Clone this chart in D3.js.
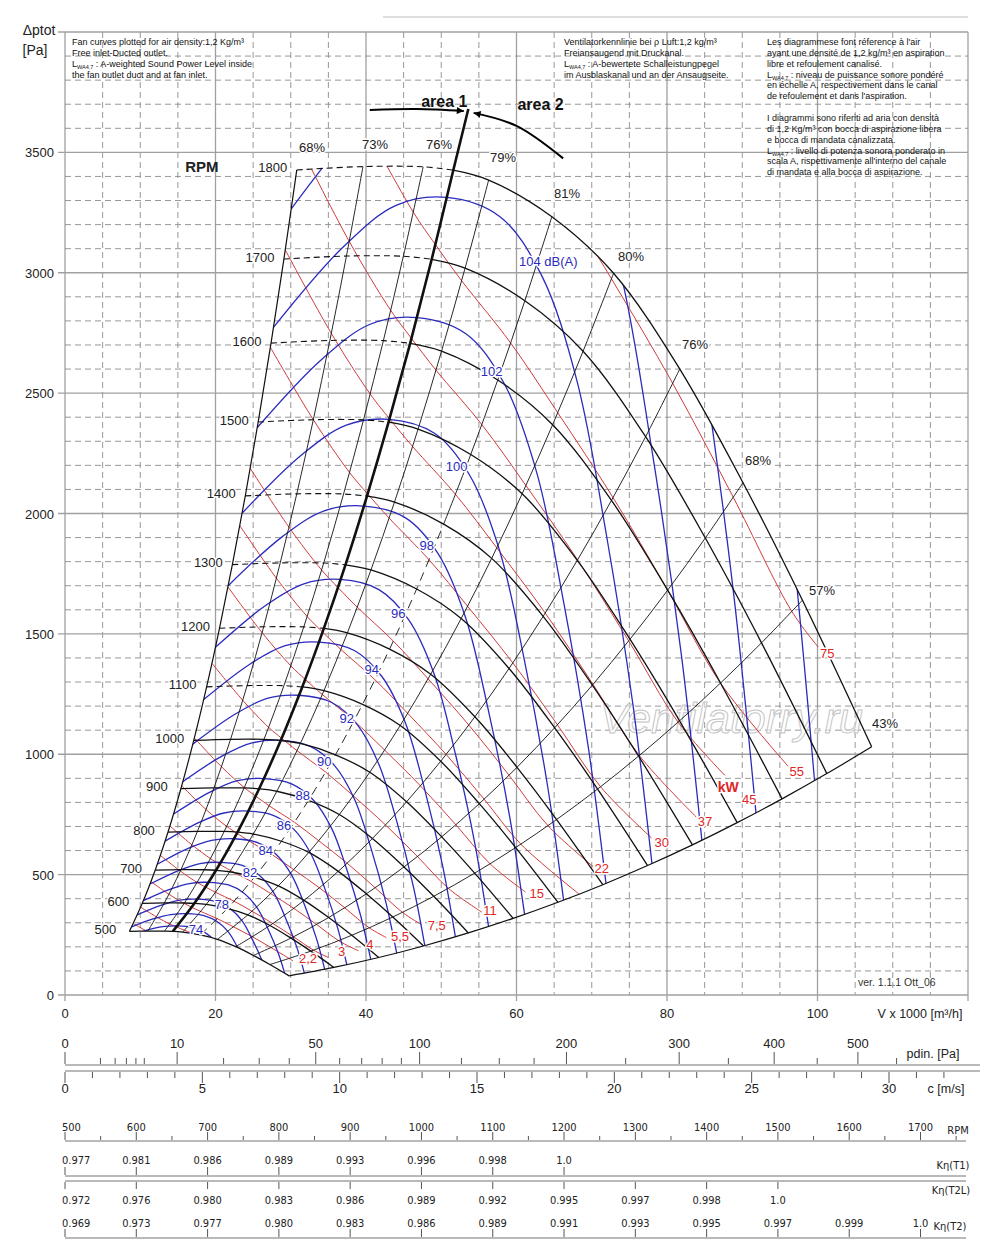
<!DOCTYPE html>
<html><head><meta charset="utf-8">
<script src="https://cdn.jsdelivr.net/npm/d3@7"></script>
<style>
body{margin:0;background:#fff;}
svg{display:block;}
</style></head><body>
<svg id="chart" width="1000" height="1243"></svg>
<script>
// ===================== DATA =====================
// Fan curves: one row per RPM, columns = points on the efficiency lines
// (68%, 73%, 76%, area boundary, 79%, 81%, 80%, 76%, 68%, 57%, 43%)
const rpmList = [500,600,700,800,900,1000,1100,1200,1300,1400,1500,1600,1700,1800];
const fanV = [
 [8.56,11.0,13.22,14.33,15.64,17.97,20.25,22.69,25.03,27.22,29.78],
 [10.27,13.2,15.87,17.2,18.77,21.57,24.3,27.23,30.03,32.67,35.73],
 [11.98,15.4,18.51,20.07,21.89,25.16,28.35,31.77,35.04,38.11,41.69],
 [13.69,17.6,21.16,22.93,25.02,28.76,32.4,36.31,40.04,43.56,47.64],
 [15.4,19.8,23.8,25.8,28.15,32.35,36.45,40.85,45.05,49.0,53.6],
 [17.11,22.0,26.44,28.67,31.28,35.94,40.5,45.39,50.06,54.44,59.56],
 [18.82,24.2,29.09,31.53,34.41,39.54,44.55,49.93,55.06,59.89,65.51],
 [20.53,26.4,31.73,34.4,37.53,43.13,48.6,54.47,60.07,65.33,71.47],
 [22.24,28.6,34.38,37.27,40.66,46.73,52.65,59.01,65.07,70.78,77.42],
 [23.96,30.8,37.02,40.13,43.79,50.32,56.7,63.54,70.08,76.22,83.38],
 [25.67,33.0,39.67,43.0,46.92,53.92,60.75,68.08,75.08,81.67,89.33],
 [27.38,35.2,42.31,45.87,50.04,57.51,64.8,72.62,80.09,87.11,95.29],
 [29.09,37.4,44.96,48.73,53.17,61.11,68.85,77.16,85.09,92.56,101.24],
 [30.8,39.6,47.6,51.6,56.3,64.7,72.9,81.7,90.1,98.0,107.2]
];
const fanP = [
 [264.4,265.5,265.4,264.3,261.2,249.5,231.3,200.6,164.2,126.5,79.6],
 [380.8,382.3,382.2,380.7,376.1,359.2,333.1,288.9,236.4,182.2,114.6],
 [518.3,520.4,520.2,518.1,511.9,488.9,453.4,393.2,321.8,248.0,155.9],
 [676.9,679.7,679.5,676.7,668.6,638.6,592.2,513.6,420.3,323.9,203.7],
 [856.8,860.3,860.0,856.5,846.3,808.3,749.5,650.0,532.0,410.0,257.8],
 [1057.7,1062.0,1061.7,1057.4,1044.7,997.8,925.3,802.5,656.8,506.2,318.2],
 [1279.8,1285.1,1284.7,1279.5,1264.2,1207.4,1119.6,971.0,794.7,612.5,385.0],
 [1523.1,1529.3,1528.9,1522.7,1504.4,1436.9,1332.4,1155.6,945.8,728.9,458.2],
 [1787.5,1794.8,1794.3,1787.0,1765.6,1686.3,1563.8,1356.2,1110.0,855.4,537.8],
 [2073.1,2081.6,2081.0,2072.5,2047.7,1955.8,1813.6,1572.8,1287.3,992.1,623.7],
 [2379.9,2389.6,2388.9,2379.2,2350.7,2245.1,2081.9,1805.6,1477.8,1138.9,716.0],
 [2707.7,2718.8,2718.0,2706.9,2674.6,2554.5,2368.8,2054.3,1681.4,1295.8,814.6],
 [3056.8,3069.3,3068.4,3055.9,3019.4,2883.8,2674.2,2319.1,1898.1,1462.8,919.6],
 [3427,3441,3440,3426,3385,3233,2998,2600,2128,1640,1031]
];
const effLabels = ["68%","73%","76%","","79%","81%","80%","76%","68%","57%","43%"];
const areaLineTop = [53.6,3680];
const areaArcLeft = [[40.5,3676],[46.7,3680],[53.0,3672]];
const areaArcRight = [[66.2,3475],[60.0,3610],[54.3,3664]];

// Sound power level curves dB(A)
const dbLevels = [110,108,106,104,102,100,98,96,94,92,90,88,86,84,82,80,78,76,74];
const dbLabels = ["","","","104 dB(A)","102","100","98","96","94","92","90","88","86","84","82","","78","","74"];
const dbV = [
 [80.84,86.84,91.82,96.42,99.61,100.25],
 [68.04,74.51,80.04,84.63,88.87,91.82,92.40],
 [30.05,40.14,47.74,55.01,62.71,68.68,73.78,78.01,81.91,84.63,85.17],
 [27.7,37.0,44.0,50.7,57.8,63.3,68.0,71.9,75.5,78.0,78.5],
 [25.53,34.10,40.55,46.73,53.27,58.34,62.68,66.27,69.59,71.89,72.35],
 [23.53,31.43,37.38,43.07,49.10,53.78,57.77,61.08,64.14,66.26,66.69],
 [21.69,28.97,34.45,39.70,45.26,49.56,53.24,56.30,59.12,61.07,61.47],
 [19.99,26.70,31.75,36.59,41.71,45.68,49.08,51.89,54.49,56.29,56.65],
 [18.43,24.61,29.27,33.72,38.45,42.11,45.23,47.83,50.22,51.88,52.22],
 [16.98,22.69,26.98,31.08,35.44,38.81,41.69,44.08,46.29,47.82,48.13],
 [15.65,20.91,24.86,28.65,32.66,35.77,38.43,40.63,42.66,44.08,44.36],
 [14.43,19.27,22.92,26.41,30.10,32.97,35.42,37.45,39.32,40.63,40.89],
 [13.30,17.76,21.12,24.34,27.75,30.39,32.64,34.52,36.25,37.45,37.69],
 [12.26,16.37,19.47,22.43,25.58,28.01,30.09,31.81,33.41,34.51,34.73],
 [11.30,15.09,17.94,20.68,23.57,25.82,27.73,29.32,30.79,31.81,32.01],
 [10.41,13.91,16.54,19.06,21.73,23.79,25.56,27.03,28.38,29.32,29.51],
 [9.60,12.82,15.24,17.57,20.03,21.93,23.56,24.91,26.16,27.02,27.20],
 [8.85,11.82,14.05,16.19,18.46,20.21,21.72,22.96,24.11,24.91,25.07],
 [8.15,10.89,12.95,14.92,17.01,18.63,20.01,21.16,22.22,22.96,23.11]
];
const dbP = [
 [4878,4167,3131,1957,890,652],
 [4480,4144,3540,2660,1663,757,554],
 [3264,3659,3861,3900,3806,3521,3008,2260,1413,643,471],
 [2773,3108,3280,3313,3233,2991,2555,1920,1200,546,400],
 [2356,2640,2786,2814,2747,2541,2171,1631,1019,464,340],
 [2001,2243,2367,2391,2333,2159,1844,1386,866,394,289],
 [1700,1906,2011,2031,1982,1834,1567,1177,736,335,245],
 [1444,1619,1708,1726,1684,1558,1331,1000,625,284,208],
 [1227,1375,1451,1466,1431,1323,1131,850,531,242,177],
 [1042,1168,1233,1245,1215,1124,960,722,451,205,150],
 [886,993,1047,1058,1032,955,816,613,383,174,128],
 [752,843,890,899,877,811,693,521,326,148,109],
 [639,716,756,764,745,689,589,443,277,126,92],
 [543,609,642,649,633,586,500,376,235,107,78],
 [461,517,546,551,538,497,425,319,200,91,67],
 [392,439,463,468,457,423,361,271,170,77,57],
 [333,373,394,398,388,359,307,230,144,66,48],
 [283,317,334,338,330,305,261,196,122,56,41],
 [240,269,284,287,280,259,221,166,104,47,35]
];

// Shaft power lines kW
const kwValues = [75,55,45,37,30,22,18.5,15,11,7.5,5.5,4,3,2.2,1.5,1.1];
const kwLabels = ["75","55","45","37","30","22","","15","11","7,5","5,5","4","3","2,2","",""];
const kwV = [
 [65.65,72.62,80.76,88.81,96.59,100.1],
 [40.39,46.28,49.22,52.71,59.22,65.48,72.83,80.09,87.11,96.1],
 [31.24,37.77,43.28,46.04,49.30,55.39,61.25,68.12,74.91,81.47,87.7],
 [29.27,35.39,40.55,43.13,46.19,51.89,57.38,63.82,70.17,76.32,83.9],
 [27.29,33.0,37.81,40.22,43.07,48.38,53.50,59.51,65.44,71.17,77.96],
 [24.61,29.76,34.10,36.27,38.84,43.63,48.25,53.66,59.01,64.18,70.2],
 [23.23,28.09,32.18,34.23,36.66,41.18,45.54,50.65,55.70,60.58,68.33],
 [21.66,26.19,30.01,31.92,34.19,38.40,42.47,47.23,51.94,56.49,61.2],
 [19.53,23.62,27.06,28.79,30.83,34.63,38.30,42.59,46.84,50.94,55.4],
 [17.19,20.79,23.82,25.34,27.13,30.48,33.71,37.49,41.22,44.84,47.4],
 [15.51,18.74,21.48,22.85,24.47,27.49,30.39,33.81,37.17,40.43,42.7],
 [13.94,16.86,19.32,20.55,22.0,24.72,27.33,30.4,33.43,36.36,39.0],
 [12.67,15.32,17.55,18.67,19.99,22.46,24.84,27.62,30.37,33.03,35.0],
 [11.42,13.81,15.83,16.83,18.03,20.25,22.4,24.91,27.39,29.79,30.3],
 [10.05,12.16,13.93,14.82,15.87,17.82,19.71,21.92,24.11,26.22,29.58],
 [9.07,10.96,12.56,13.36]
];
const kwP = [
 [3328.6,2974.9,2540.4,2067.2,1593.1,1445],
 [3579.7,3251.9,3117.1,2966.9,2708.5,2418.6,2066.0,1681.2,1295.8,950],
 [3525.6,3130.3,2844.1,2727.4,2595.5,2369.4,2116.3,1807.4,1470.8,1133.4,912],
 [3095,2748.3,2496.5,2393.5,2278.4,2079.5,1857.3,1586.4,1290.5,994.6,739],
 [2690.4,2389.6,2170.6,2081.4,1981.0,1807.7,1614.6,1379.4,1122.4,864.9,652],
 [2188.1,1943.4,1765.5,1692.7,1610.9,1470.1,1313.3,1121.5,912.7,703.4,533],
 [1949.5,1731.4,1572.3,1507.6,1435.2,1309.7,1169.9,999.2,813.2,626.7,418.9],
 [1694.9,1505.1,1367.4,1311.0,1248.3,1138.8,1017.5,868.9,707.1,544.9,427.6],
 [1377.9,1224.2,1111.7,1066.5,1015.0,926.1,827.5,706.5,575.1,443.1,344],
 [1067.6,948.4,861.5,826.2,786.0,717.5,641.0,547.4,445.3,343.3,292],
 [869.0,770.6,700.5,671.8,639.4,583.6,521.0,445.2,362.1,279.1,238.6],
 [702.0,623.8,566.8,543.4,516.9,471.9,421.3,360.0,292.9,225.7,183.5],
 [579.9,515.0,467.6,448.5,426.7,389.6,348.1,297.1,241.7,186.3,156],
 [471.2,418.5,380.5,364.5,347.2,316.7,283.0,241.7,196.6,151.5,141],
 [364.9,324.5,294.6,282.6,269.0,245.3,219.2,187.2,152.4,117.4,78.5],
 [297.3,263.6,239.5,229.7]
];

// Axis ticks
const xTickLabels = [0,20,40,60,80,100];
const yTickLabels = [0,500,1000,1500,2000,2500,3000,3500];
const pdinMajor = [0,10,50,100,200,300,400,500];
const pdinMinor = [1,2,3,4,5,20,30,40,60,70,80,90,125,150,175,250,350,450,550];
const cMajor = [0,5,10,15,20,25,30];
const cMinor = [1,2,3,4,6,7,8,9,11,12,13,14,16,17,18,19,21,22,23,24,26,27,28,29,31,32];
const rpmScale = [500,600,700,800,900,1000,1100,1200,1300,1400,1500,1600,1700];
const rpmScaleMinor = [550,650,750,850,950,1050,1150,1250,1350,1450,1550,1650,1750];
const kT1 = ["0.977","0.981","0.986","0.989","0.993","0.996","0.998","1.0"];
const kT2L = ["0.972","0.976","0.980","0.983","0.986","0.989","0.992","0.995","0.997","0.998","1.0"];
const kT2 = ["0.969","0.973","0.977","0.980","0.983","0.986","0.989","0.991","0.993","0.995","0.997","0.999","1.0"];

// Notes
const noteEN = ["Fan curves plotted for air density:1,2 Kg/m³","Free inlet-Ducted outlet.","#: A-weighted Sound Power Level inside","the fan outlet duct and at fan inlet."];
const noteDE = ["Ventilatorkennlinie bei ρ Luft:1,2 kg/m³","Freiansaugend mit Druckanal.","#: A-bewertete Schalleistungpegel","im Ausblaskanal und an der Ansaugseite."];
const noteFRIT = ["Les diagrammese font réference à l'air","ayant une densité de 1,2 kg/m³ en aspiration","libre et refoulement canalisé.","#: niveau de puissance sonore pondéré","en échelle A, respectivement dans le canal","de refoulement et dans l'aspiration.","","I diagrammi sono riferiti ad aria con densità","di 1,2 Kg/m³ con bocca di aspirazione libera","e bocca di mandata canalizzata.","#: livello di potenza sonora ponderato in","scala A, rispettivamente all'interno del canale","di mandata e alla bocca di aspirazione."];

// ===================== LAYOUT (label placement, in data units) =====================
const effLabelPos = [[32.82,3522],[41.20,3531],[49.70,3531],null,[58.21,3477],[66.71,3331],[75.22,3069],[83.72,2700],[92.09,2222],[100.60,1682],[108.97,1126]];
const dbLabelPos = [null,null,null,[64.23,3046],[56.70,2589],[52.05,2194],[48.07,1869],[44.29,1585],[40.76,1350],[37.44,1149],[34.46,969],[31.59,828],[29.10,706],[26.67,599],[24.58,510],null,[20.82,374],null,[17.41,270]];
const kwLabelPos = [[101.3,1418],[97.23,927],[90.94,813],[85.05,720],[79.30,633],[71.32,526],null,[62.69,422],[56.48,353],[49.40,287],[44.52,242],[40.53,208],[36.77,180],[32.30,153],null,null];
const kwUnitPos = [88.14,865];
const areaLabelPos = [[50.4,3688],[63.2,3676]];

// ===================== DRAWING =====================
const FONT = '"Liberation Sans", Arial, Helvetica, sans-serif';
const NARROW = '"Liberation Sans Narrow", "DejaVu Sans Condensed", "Liberation Sans", sans-serif';
const svg = d3.select("#chart").style("font-family", FONT);
const defs = svg.append("defs");
const x = d3.scaleLinear().domain([0,120]).range([65,968]);
const y = d3.scaleLinear().domain([0,4000]).range([995,32]);
const lineGen = d3.line().x(d=>x(d[0])).y(d=>y(d[1])).curve(d3.curveCatmullRom.alpha(0.5));
const zip = (V,P)=>V.map((v,i)=>[v,P[i]]);
const BLUE = "#2b2bbd", RED = "#cf3b3b";

// top thin line
svg.append("line").attr("x1",383).attr("x2",x(120)).attr("y1",17).attr("y2",17).attr("stroke","#bdbdbd").attr("stroke-width",1);

// grid
const grid = svg.append("g");
d3.range(0,121,5).forEach(v=>{
  const major = v%20===0;
  grid.append("line").attr("x1",x(v)).attr("x2",x(v)).attr("y1",y(4000)).attr("y2",y(0)+(major?6:0))
    .attr("stroke",major?"#a0a0a0":"#8c8c8c").attr("stroke-width",major?1.3:0.9)
    .attr("stroke-dasharray",major?null:"6,4");
});
d3.range(0,4001,100).forEach(p=>{
  const major = p%500===0;
  grid.append("line").attr("x1",x(0)-(major?7:0)).attr("x2",x(120)).attr("y1",y(p)).attr("y2",y(p))
    .attr("stroke",major?"#a0a0a0":"#8c8c8c").attr("stroke-width",major?1.3:0.9)
    .attr("stroke-dasharray",major?null:"6,4");
});
// axis labels
yTickLabels.forEach(p=>svg.append("text").attr("x",54).attr("y",y(p)+5).attr("text-anchor","end")
  .attr("font-size",13).attr("fill","#222").text(p));
xTickLabels.forEach(v=>svg.append("text").attr("x",x(v)).attr("y",1018).attr("text-anchor","middle")
  .attr("font-size",13).attr("fill","#222").text(v));
svg.append("text").attr("x",920).attr("y",1018).attr("text-anchor","middle").attr("font-size",12.5).attr("fill","#222").text("V x 1000 [m³/h]");
svg.append("text").attr("x",39).attr("y",35).attr("text-anchor","middle").attr("font-size",14).attr("fill","#222").text("Δptot");
svg.append("text").attr("x",35).attr("y",55).attr("text-anchor","middle").attr("font-size",14).attr("fill","#222").text("[Pa]");

// notes
function note(lines, x0, y0){
  lines.forEach((s,i)=>{
    if(!s) return;
    const t = svg.append("text").attr("x",x0).attr("y",y0+i*10.85).attr("font-size",9).attr("fill","#111");
    if(s.startsWith("#")){
      t.append("tspan").text("L");
      t.append("tspan").attr("font-size",5.5).attr("dy",2).text("WA4,7");
      t.append("tspan").attr("dy",-2).text(" "+s.slice(1));
    } else t.text(s);
  });
}
note(noteEN,72,45); note(noteDE,564,45); note(noteFRIT,767,45);

// watermark
svg.append("text").attr("x",600).attr("y",733).attr("font-size",43).attr("font-style","italic")
  .attr("fill","rgba(255,255,255,0.55)").attr("stroke","#c4c4c4").attr("stroke-width",1).text("Ventilatorry.ru");

// clip: fan operating area
const nR = rpmList.length;
const leftB = rpmList.map((r,i)=>[fanV[i][0],fanP[i][0]]);
const topC = zip(fanV[nR-1],fanP[nR-1]);
const rightB = rpmList.map((r,i)=>[fanV[i][10],fanP[i][10]]).reverse();
const botC = zip(fanV[0],fanP[0]).reverse();
const clipD = lineGen(leftB)+lineGen(topC).replace(/^M/,"L")+lineGen(rightB).replace(/^M/,"L")+lineGen(botC).replace(/^M/,"L")+"Z";
defs.append("clipPath").attr("id","fanClip").append("path").attr("d",clipD);

// red kW lines
const redG = svg.append("g").attr("clip-path","url(#fanClip)");
kwValues.forEach((k,i)=>redG.append("path").attr("d",lineGen(zip(kwV[i],kwP[i])))
  .attr("fill","none").attr("stroke",RED).attr("stroke-width",1));

// blue dB lines
const blueG = svg.append("g").attr("clip-path","url(#fanClip)");
dbLevels.forEach((l,i)=>blueG.append("path").attr("d",lineGen(zip(dbV[i],dbP[i])))
  .attr("fill","none").attr("stroke",BLUE).attr("stroke-width",1.3));

// efficiency lines
const effG = svg.append("g").attr("fill","none").attr("stroke","#111");
for(let j=0;j<11;j++){
  const pts = rpmList.map((r,i)=>[fanV[i][j],fanP[i][j]]);
  if(j===3){
    pts.push(areaLineTop);
    effG.append("path").attr("d",lineGen(pts)).attr("stroke-width",2.6);
  } else if(j===5){
    const k = rpmList.indexOf(1400);
    effG.append("path").attr("d",lineGen(pts.slice(0,k+1))).attr("stroke-width",0.9).attr("stroke-dasharray","9,6");
    effG.append("path").attr("d",lineGen(pts.slice(k))).attr("stroke-width",0.9);
  } else {
    effG.append("path").attr("d",lineGen(pts)).attr("stroke-width",(j===0||j===10)?1.2:0.9);
  }
}

// RPM curves
const rpmG = svg.append("g").attr("fill","none").attr("stroke","#111");
rpmList.forEach((r,i)=>{
  const pts = zip(fanV[i],fanP[i]);
  if(r>=1100){
    rpmG.append("path").attr("d",lineGen(pts.slice(0,4))).attr("stroke-width",1.1).attr("stroke-dasharray","6,4");
    rpmG.append("path").attr("d",lineGen(pts.slice(3))).attr("stroke-width",1.3);
  } else {
    rpmG.append("path").attr("d",lineGen(pts)).attr("stroke-width",1.3);
  }
});

// area arrows
defs.append("marker").attr("id","ah").attr("viewBox","0 0 10 10").attr("refX",10).attr("refY",5)
  .attr("markerWidth",10).attr("markerHeight",7).attr("markerUnits","userSpaceOnUse").attr("orient","auto")
  .append("path").attr("d","M0,0L10,5L0,10Z").attr("fill","#000");
[areaArcLeft, areaArcRight].forEach(a=>svg.append("path").attr("d",lineGen(a)).attr("fill","none")
  .attr("stroke","#000").attr("stroke-width",2).attr("marker-end","url(#ah)"));
["area 1","area 2"].forEach((s,i)=>svg.append("text").attr("x",x(areaLabelPos[i][0])).attr("y",y(areaLabelPos[i][1]))
  .attr("text-anchor","middle").attr("font-size",16).attr("font-weight","bold").attr("fill","#111").text(s));

// labels helper
function lab(g, pos, txt, color, size, bold){
  return g.append("text").attr("x",x(pos[0])).attr("y",y(pos[1])).attr("text-anchor","middle")
    .attr("dominant-baseline","central").attr("font-size",size).attr("fill",color)
    .attr("font-weight",bold?"bold":"normal")
    .attr("stroke","#fff").attr("stroke-width",3).attr("stroke-linejoin","round").attr("paint-order","stroke")
    .text(txt);
}
const labG = svg.append("g");
effLabels.forEach((t,j)=>{ if(t) lab(labG, effLabelPos[j], t, "#222", 13); });
dbLabels.forEach((t,i)=>{ if(t) lab(labG, dbLabelPos[i], t, BLUE, 13); });
kwLabels.forEach((t,i)=>{ if(t) lab(labG, kwLabelPos[i], t, "#e02525", 13); });
lab(labG, kwUnitPos, "kW", "#e02525", 14, true);
// RPM labels at left boundary
rpmList.forEach((r,i)=>{
  labG.append("text").attr("x",x(fanV[i][0])-24).attr("y",y(fanP[i][0])-2).attr("text-anchor","middle")
    .attr("dominant-baseline","central").attr("font-size",13).attr("fill","#222")
    .attr("stroke","#fff").attr("stroke-width",3).attr("paint-order","stroke").text(r);
});
labG.append("text").attr("x",x(18.2)).attr("y",y(3440)).attr("text-anchor","middle").attr("dominant-baseline","central")
  .attr("font-size",15).attr("font-weight","bold").attr("fill","#222").text("RPM");
svg.append("text").attr("x",858).attr("y",y(0)-9).attr("font-size",10.5).attr("fill","#333").text("ver. 1.1.1 Ott_06");

// ===================== Bottom scales =====================
const pd = d3.scaleSqrt().domain([0,540]).range([x(0),889]);
const cs = d3.scaleLinear().domain([0,30]).range([x(0),889]);
const sg = svg.append("g");
const axisLine=(yy,x2)=>sg.append("line").attr("x1",x(0)).attr("x2",x2).attr("y1",yy).attr("y2",yy).attr("stroke","#b9b9b9").attr("stroke-width",2);
const tick=(xx,y1,y2)=>sg.append("line").attr("x1",xx).attr("x2",xx).attr("y1",y1).attr("y2",y2).attr("stroke","#555").attr("stroke-width",1);
const txt=(xx,yy,s,size,font,anchor)=>sg.append("text").attr("x",xx).attr("y",yy).attr("text-anchor",anchor||"middle")
  .attr("font-size",size).attr("font-family",font||FONT).attr("fill","#222").text(s);
// pdin
axisLine(1065,980);
pdinMajor.forEach(v=>{ tick(pd(v),1052,1064); txt(pd(v),1048,v,13); });
pdinMinor.forEach(v=>tick(pd(v),1058,1064));
txt(933,1058,"pdin. [Pa]",12.5);
// c
axisLine(1071,980);
cMajor.forEach(v=>{ tick(cs(v),1072,1083); txt(cs(v),1093,v,13); });
cMinor.forEach(v=>tick(cs(v),1072,1078));
txt(946,1093,"c [m/s]",12.5);
// RPM scale
const rs = d3.scaleLinear().domain([500,1700]).range([x(0),920.5]);
axisLine(1141,966);
rpmScale.forEach((v,i)=>{ tick(rs(v),1132,1140); txt(i===0?62:rs(v),1130.5,v,11,NARROW,i===0?"start":"middle"); });
rpmScaleMinor.forEach(v=>tick(rs(v),1136,1140));
txt(958,1134,"RPM",11,NARROW);
// K eta T1
axisLine(1176,966);
kT1.forEach((s,i)=>{ const v=rpmScale[i]; tick(rs(v),1167,1175); txt(i===0?62:rs(v),1164,s,11,NARROW,i===0?"start":"middle"); });
txt(953,1169,"Kη(T1)",11,NARROW);
// K eta T2L
axisLine(1181,966);
kT2L.forEach((s,i)=>{ const v=rpmScale[i]; tick(rs(v),1182,1189); txt(i===0?62:rs(v),1204,s,11,NARROW,i===0?"start":"middle"); });
txt(951,1194,"Kη(T2L)",11,NARROW);
// K eta T2
axisLine(1238,966);
kT2.forEach((s,i)=>{ const v=rpmScale[i]; tick(rs(v),1229,1237); txt(i===0?62:rs(v),1226.5,s,11,NARROW,i===0?"start":"middle"); });
txt(950,1230,"Kη(T2)",11,NARROW);
</script></body></html>
